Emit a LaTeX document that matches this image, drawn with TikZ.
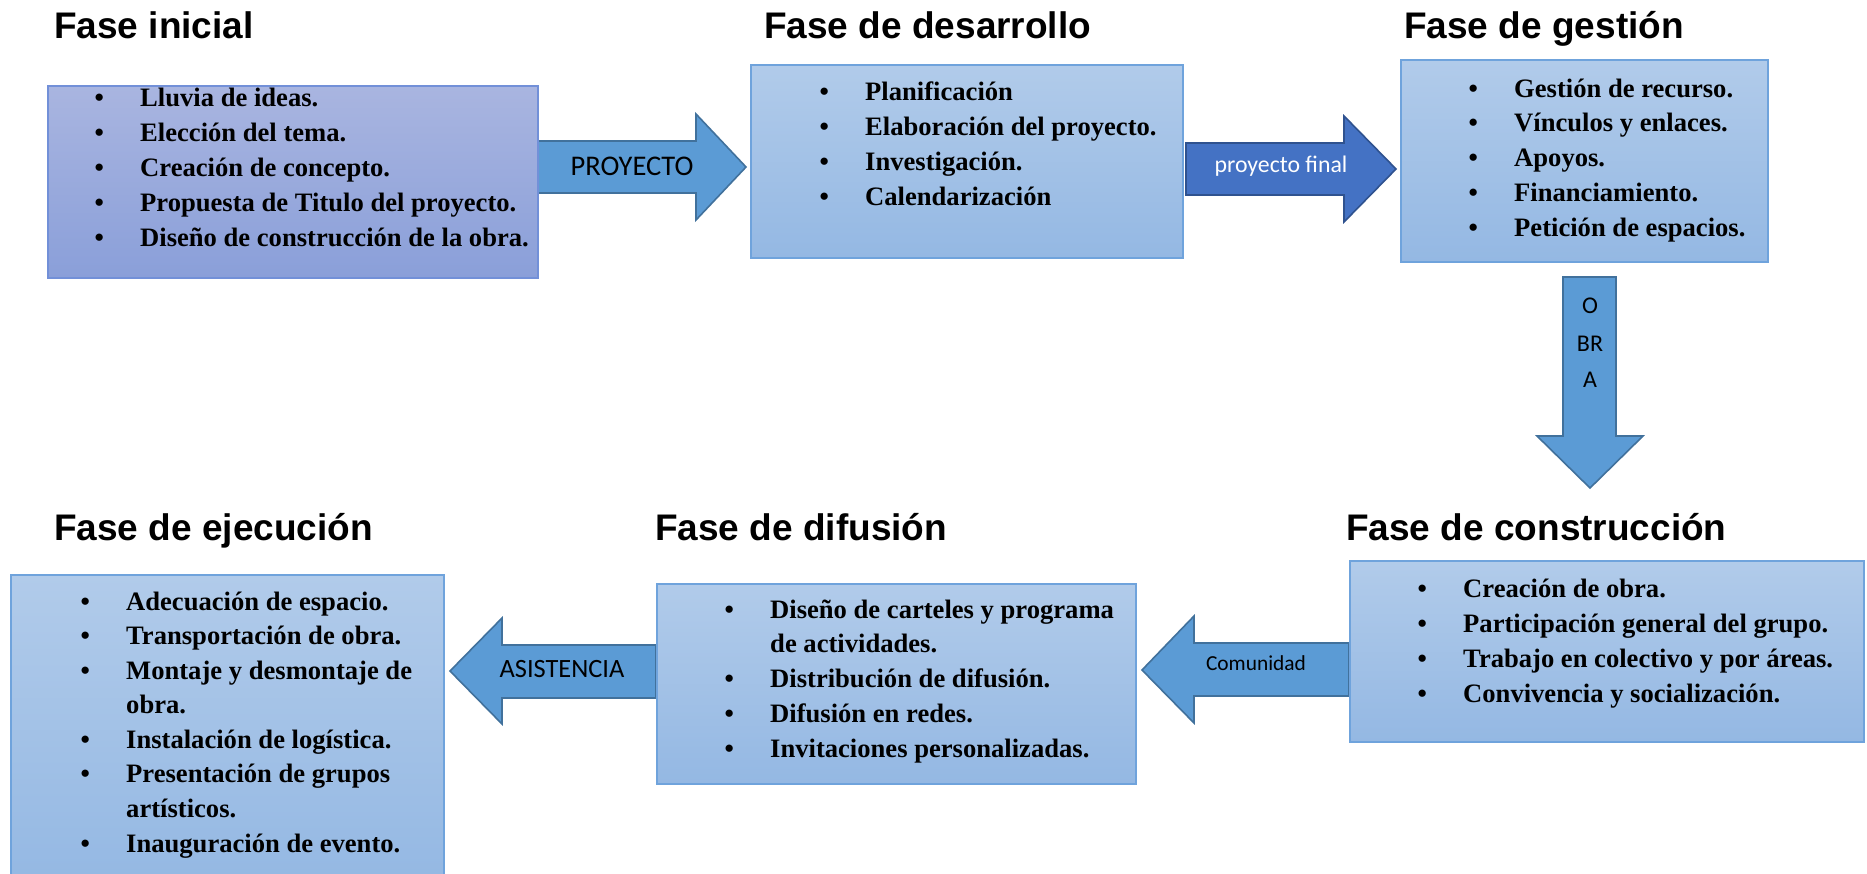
\documentclass[tikz,border=0pt]{standalone}
\usepackage{fontspec}
\setmainfont{Liberation Serif}
\newfontfamily\titlefont{Liberation Sans}
\newfontfamily\calfont{Carlito}
\definecolor{boxtop}{HTML}{B1CBEA}
\definecolor{boxbot}{HTML}{94B8E3}
\definecolor{boxline}{HTML}{6FA3DC}
\definecolor{iniTop}{HTML}{A9B5E0}
\definecolor{iniBot}{HTML}{8A9FD9}
\definecolor{iniLine}{HTML}{7290D8}
\definecolor{arrFill}{HTML}{5B9BD5}
\definecolor{arrLine}{HTML}{41719C}
\definecolor{arrFillB}{HTML}{4472C4}
\definecolor{arrLineB}{HTML}{2F528F}
\newcommand\bitem{\leavevmode\llap{\makebox[45.5pt][l]{•}}}
\newcommand\bodyfont{\bfseries\fontsize{26.6}{35}\selectfont}
\tikzset{
  phasebox/.style={draw=boxline, line width=1.6pt, top color=boxtop, bottom color=boxbot, anchor=north west, inner sep=0pt},
  inibox/.style={draw=iniLine, line width=1.6pt, top color=iniTop, bottom color=iniBot, anchor=north west, inner sep=0pt},
  phasetitle/.style={anchor=base west, inner sep=0pt, font=\titlefont\bfseries\fontsize{37}{44}\selectfont},
  itemlist/.style={anchor=base west, inner sep=0pt, font=\bodyfont},
  blockarrow/.style={fill=arrFill, draw=arrLine, line width=1.6pt, line join=miter},
  blockarrowdark/.style={fill=arrFillB, draw=arrLineB, line width=1.6pt, line join=miter},
  arrlabel/.style={anchor=base, inner sep=0pt, font=\calfont},
}
\begin{document}
\begin{tikzpicture}[x=1pt,y=-1pt]
\useasboundingbox (0,0) rectangle (1867,873);
\clip (0,0) rectangle (1867,873);

% titles
\node[phasetitle] (h1) at (54,38) {Fase inicial};
\node[phasetitle] (h2) at (764,38) {Fase de desarrollo};
\node[phasetitle] (h3) at (1404,38) {Fase de gestión};
\node[phasetitle] (h4) at (1346,540) {Fase de construcción};
\node[phasetitle] (h5) at (655,540) {Fase de difusión};
\node[phasetitle] (h6) at (54,540) {Fase de ejecución};

% block arrows (drawn first, boxes over them)
\draw[blockarrow] (537,141) -- (696,141) -- (696,114) -- (746,167) -- (696,220) -- (696,193) -- (537,193) -- cycle;
\draw[blockarrowdark] (1186,143) -- (1344,143) -- (1344,116) -- (1396,169) -- (1344,222) -- (1344,195) -- (1186,195) -- cycle;
\draw[blockarrow] (1563,277) -- (1616,277) -- (1616,436) -- (1643,436) -- (1590,488) -- (1537,436) -- (1563,436) -- cycle;
\draw[blockarrow] (1349,643) -- (1194,643) -- (1194,616) -- (1142,670) -- (1194,723) -- (1194,696) -- (1349,696) -- cycle;
\draw[blockarrow] (656,645) -- (502,645) -- (502,618) -- (450,671) -- (502,724) -- (502,698) -- (656,698) -- cycle;

% boxes
\node[inibox, minimum width=490pt, minimum height=192pt] (b1) at (47,85) {};
\node[phasebox, minimum width=432pt, minimum height=193pt] (b2) at (750,64) {};
\node[phasebox, minimum width=367pt, minimum height=202pt] (b3) at (1400,59) {};
\node[phasebox, minimum width=514pt, minimum height=181pt] (b4) at (1349,560) {};
\node[phasebox, minimum width=479pt, minimum height=200pt] (b5) at (656,583) {};
\node[phasebox, minimum width=433pt, minimum height=310pt] (b6) at (10,574) {};

% arrow labels
\node[arrlabel, font=\calfont\fontsize{28.5}{34}\selectfont] (l1) at (632,175) {PROYECTO};
\node[arrlabel, text=white, font=\calfont\fontsize{23.8}{28}\selectfont] (l2) at (1281,172) {proyecto final};
\node[arrlabel, font=\calfont\fontsize{24}{28}\selectfont] (l3a) at (1590,313) {O};
\node[arrlabel, font=\calfont\fontsize{24}{28}\selectfont] (l3b) at (1590,351) {BR};
\node[arrlabel, font=\calfont\fontsize{24}{28}\selectfont] (l3c) at (1590,387) {A};
\node[arrlabel, font=\calfont\fontsize{21.4}{26}\selectfont] (l4) at (1256,670) {Comunidad};
\node[arrlabel, font=\calfont\fontsize{26.4}{32}\selectfont] (l5) at (562,677) {ASISTENCIA};

% item lists
\node[itemlist] (t1) at (140,106) {\parbox[t]{440pt}{\raggedright\setlength\baselineskip{35pt}%
\bitem Lluvia de ideas.\\
\bitem Elección del tema.\\
\bitem Creación de concepto.\\
\bitem Propuesta de Titulo del proyecto.\\
\bitem Diseño de construcción de la obra.}};

\node[itemlist] (t2) at (865,100) {\parbox[t]{400pt}{\raggedright\setlength\baselineskip{35.3pt}%
\bitem Planificación\\
\bitem Elaboración del proyecto.\\
\bitem Investigación.\\
\bitem Calendarización}};

\node[itemlist] (t3) at (1514,97) {\parbox[t]{340pt}{\raggedright\setlength\baselineskip{34.75pt}%
\bitem Gestión de recurso.\\
\bitem Vínculos y enlaces.\\
\bitem Apoyos.\\
\bitem Financiamiento.\\
\bitem Petición de espacios.}};

\node[itemlist] (t4) at (1463,597) {\parbox[t]{420pt}{\raggedright\setlength\baselineskip{35.3pt}%
\bitem Creación de obra.\\
\bitem Participación general del grupo.\\
\bitem Trabajo en colectivo y por áreas.\\
\bitem Convivencia y socialización.}};

\node[itemlist] (t5) at (770,618) {\parbox[t]{420pt}{\raggedright\setlength\baselineskip{34.75pt}%
\bitem Diseño de carteles y programa\\
\leavevmode de actividades.\\
\bitem Distribución de difusión.\\
\bitem Difusión en redes.\\
\bitem Invitaciones personalizadas.}};

\node[itemlist] (t6) at (126,610) {\parbox[t]{400pt}{\raggedright\setlength\baselineskip{34.57pt}%
\bitem Adecuación de espacio.\\
\bitem Transportación de obra.\\
\bitem Montaje y desmontaje de\\
\leavevmode obra.\\
\bitem Instalación de logística.\\
\bitem Presentación de grupos\\
\leavevmode artísticos.\\
\bitem Inauguración de evento.}};
\end{tikzpicture}
\end{document}
